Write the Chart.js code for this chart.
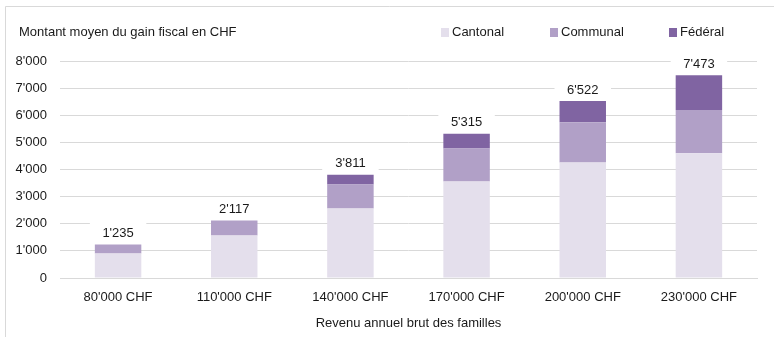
<!DOCTYPE html>
<html>
<head>
  <title>Gain fiscal moyen</title>
  <script src="https://cdn.jsdelivr.net/npm/chart.js"></script>
  <style>
    html, body { margin: 0; padding: 0; background: #fff; }
    #chart { display: block; }
  </style>
</head>
<body>
  <canvas id="chart" width="774" height="337"></canvas>

  <script>
    const categories = ["80'000 CHF", "110'000 CHF", "140'000 CHF", "170'000 CHF", "200'000 CHF", "230'000 CHF"];
    const cantonal = [905, 1565, 2560, 3560, 4260, 4600];
    const communal = [330, 552, 890, 1215, 1480, 1590];
    const federal = [0, 0, 361, 540, 782, 1283];

    const seriesNames = ['Cantonal', 'Communal', 'Fédéral'];
    const seriesColors = ['#E4DFEC', '#B1A0C7', '#8064A2'];

    const FONT = "'Liberation Sans', Arial, sans-serif";
    const SIZE = 13;
    const TEXT = '#1a1a1a';

    // apostrophe as thousands separator: 7'473
    function fmt(v) {
      return String(Math.round(v)).replace(/\B(?=(\d{3})+(?!\d))/g, "'");
    }

    // white card with a light border, title and hand placed legend
    const frame = {
      id: 'frame',
      beforeDraw(chart) {
        const c = chart.ctx;
        c.save();
        c.fillStyle = '#fff';
        c.fillRect(0, 0, chart.width, chart.height);
        c.strokeStyle = '#d9d9d9';
        c.lineWidth = 1;
        c.beginPath();
        c.moveTo(5.5, chart.height);
        c.lineTo(5.5, 6.5);
        c.lineTo(chart.width, 6.5);
        c.stroke();

        c.font = SIZE + 'px ' + FONT;
        c.fillStyle = TEXT;
        c.textBaseline = 'middle';
        c.textAlign = 'left';
        c.fillText('Montant moyen du gain fiscal en CHF', 19, 32);

        const legendX = [441, 550, 669];
        chart.data.datasets.forEach((ds, i) => {
          c.fillStyle = ds.backgroundColor;
          c.fillRect(legendX[i], 28, 8, 9);
          c.fillStyle = TEXT;
          c.fillText(ds.label, legendX[i] + 11, 32.5);
        });
        c.restore();
      }
    };

    // total above each stack, on a white patch that cuts the gridlines
    const totals = {
      id: 'totals',
      afterDatasetsDraw(chart) {
        const c = chart.ctx;
        const y = chart.scales.y;
        const meta = chart.getDatasetMeta(0);
        c.save();
        c.font = SIZE + 'px ' + FONT;
        c.textAlign = 'center';
        c.textBaseline = 'middle';
        categories.forEach((cat, i) => {
          const total = cantonal[i] + communal[i] + federal[i];
          const bar = meta.data[i];
          const top = y.getPixelForValue(total);
          const w = bar.width + 10;
          c.fillStyle = '#fff';
          c.fillRect(bar.x - w / 2, top - 22, w, 21);
          c.fillStyle = TEXT;
          c.fillText(fmt(total), bar.x, top - 11);
        });
        c.restore();
      }
    };

    new Chart(document.getElementById('chart'), {
      type: 'bar',
      data: {
        labels: categories,
        datasets: [cantonal, communal, federal].map((d, i) => ({
          label: seriesNames[i],
          data: d,
          backgroundColor: seriesColors[i],
          borderWidth: 0,
          categoryPercentage: 0.8,
          barPercentage: 0.5
        }))
      },
      options: {
        responsive: false,
        animation: false,
        layout: { padding: { top: 61, left: 6, right: 17, bottom: 6 } },
        plugins: {
          legend: { display: false },
          title: { display: false },
          tooltip: { enabled: false }
        },
        scales: {
          x: {
            stacked: true,
            grid: { display: false, drawTicks: false },
            border: { color: '#d9d9d9' },
            ticks: { color: TEXT, font: { family: FONT, size: SIZE }, padding: 12, maxRotation: 0 },
            title: {
              display: true,
              text: 'Revenu annuel brut des familles',
              color: TEXT,
              font: { family: FONT, size: SIZE },
              padding: { top: 4, bottom: 0 }
            },
            afterFit(s) { s.height = 53; }
          },
          y: {
            stacked: true,
            min: 0,
            max: 8000,
            grid: { color: '#d9d9d9', drawTicks: false },
            border: { display: false },
            ticks: {
              stepSize: 1000,
              color: TEXT,
              font: { family: FONT, size: SIZE },
              padding: 13,
              callback: v => fmt(v)
            },
            afterFit(s) { s.width = 54; }
          }
        }
      },
      plugins: [frame, totals]
    });
  </script>
</body>
</html>
